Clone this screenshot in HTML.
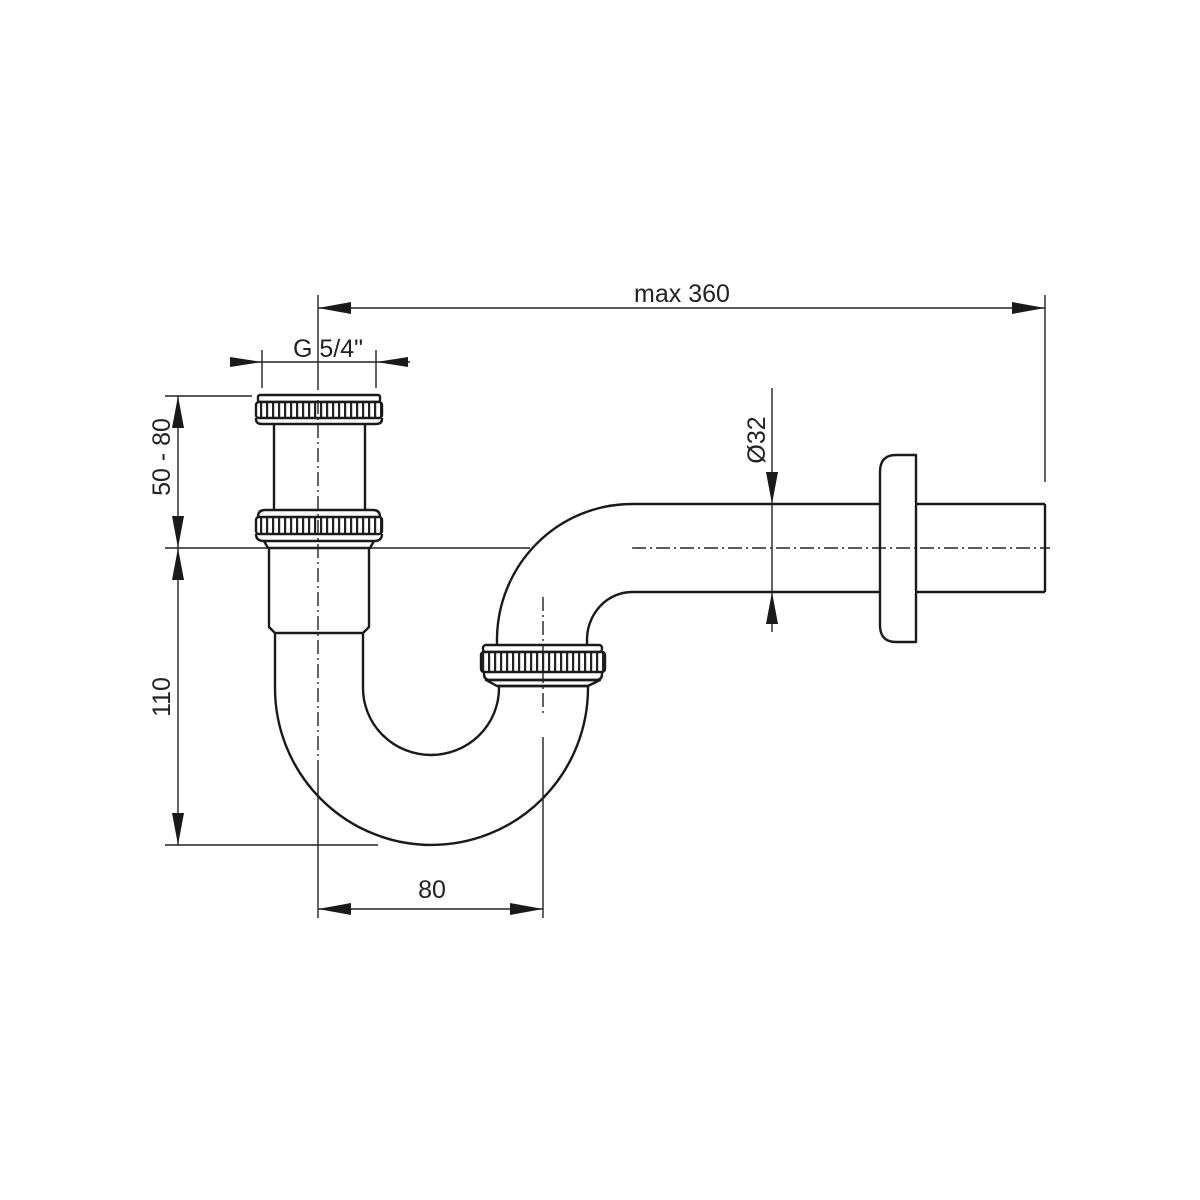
<!DOCTYPE html>
<html><head><meta charset="utf-8"><style>
html,body{margin:0;padding:0;background:#fff}
svg{display:block}
text{font-family:"Liberation Sans",sans-serif;fill:#222}
</style></head><body>
<svg width="1200" height="1200" viewBox="0 0 1200 1200" xmlns="http://www.w3.org/2000/svg">
<defs>
<pattern id="k" x="0" y="0" width="6" height="20" patternUnits="userSpaceOnUse">
<rect x="0" y="0" width="6" height="20" fill="#fff"/>
<rect x="2" y="0" width="2.2" height="20" fill="#222"/>
</pattern>
</defs>
<g fill="none" stroke="#1a1a1a" stroke-width="2.4" stroke-linejoin="round">
<rect x="258" y="395" width="122" height="7" rx="2"/>
<rect x="256" y="402" width="126" height="16" rx="3" fill="url(#k)"/>
<path d="M256,418 L256,419 Q256,424 262,424 L376,424 Q382,424 382,419 L382,418"/>
<line x1="274" y1="424" x2="274" y2="510"/>
<line x1="365" y1="424" x2="365" y2="510"/>
<path d="M258,517 Q258,510 265,510 L373,510 Q380,510 380,517"/>
<rect x="256" y="517" width="126" height="17" rx="3" fill="url(#k)"/>
<path d="M256,534 Q256,541 264,541 L374,541 Q382,541 382,534"/>
<path d="M264,541 L268,548 L370,548 L374,541"/>
<path d="M269,548 L269,627 L275,633 L363,633 L369,627 L369,548"/>
<path d="M275,633 L275,688 A156.5,157 0 0 0 588,688 L588,686"/>
<path d="M363,633 L363,688 A68,67 0 0 0 499,688 L499,686"/>
<path d="M497,686 L486,680 L600,680 L588,686 Z"/>
<line x1="497" y1="686" x2="588" y2="686"/>
<rect x="483" y="645" width="119" height="7" rx="3"/>
<rect x="481" y="652" width="124" height="20" rx="3" fill="url(#k)"/>
<path d="M484,672 L484,674 Q484,680 490,680 L596,680 Q602,680 602,674 L602,672"/>
<path d="M497,645 L497,640 A135,136 0 0 1 632,504"/>
<path d="M587,645 L587,640 A45,48 0 0 1 632,592"/>
<line x1="632" y1="504" x2="880" y2="504"/>
<line x1="632" y1="592" x2="880" y2="592"/>
<line x1="916" y1="504" x2="1045" y2="504"/>
<line x1="916" y1="592" x2="1045" y2="592"/>
<line x1="1045" y1="504" x2="1045" y2="592"/>
<path d="M916,455 L896,455 Q880,455 880,472 L880,625 Q880,642 896,642 L916,642 Z"/>
</g>
<g stroke="#222" stroke-width="1.4" fill="none" stroke-dasharray="14,4,2,4">
<line x1="318" y1="376" x2="318" y2="760"/>
<line x1="543" y1="597" x2="543" y2="716"/>
<line x1="632" y1="548" x2="1050" y2="548"/>
</g>
<g stroke="#222" stroke-width="1.4" fill="none">
<line x1="318" y1="760" x2="318" y2="918"/>
<line x1="543" y1="737" x2="543" y2="918"/>
<line x1="318" y1="909" x2="543" y2="909"/>
<line x1="318" y1="295" x2="318" y2="376"/>
<line x1="318" y1="308" x2="1045" y2="308"/>
<line x1="1045" y1="295" x2="1045" y2="482"/>
<line x1="262" y1="350" x2="262" y2="388"/>
<line x1="376" y1="350" x2="376" y2="388"/>
<line x1="230" y1="362" x2="410" y2="362"/>
<line x1="165" y1="396" x2="252" y2="396"/>
<line x1="165" y1="548" x2="530" y2="548"/>
<line x1="165" y1="845" x2="378" y2="845"/>
<line x1="178" y1="396" x2="178" y2="845"/>
<line x1="772" y1="388" x2="772" y2="632"/>
</g>
<g fill="#1a1a1a">
<polygon points="318,909 351,903 351,915"/>
<polygon points="543,909 510,903 510,915"/>
<polygon points="318,308 351,302 351,314"/>
<polygon points="1045,308 1012,302 1012,314"/>
<polygon points="262,362 230,357 230,367"/>
<polygon points="376,362 408,357 408,367"/>
<polygon points="178,396 172,428 184,428"/>
<polygon points="178,548 172,516 184,516"/>
<polygon points="178,548 172,580 184,580"/>
<polygon points="178,845 172,813 184,813"/>
<polygon points="772,504 766,472 778,472"/>
<polygon points="772,592 766,624 778,624"/>
</g>
<g font-size="25">
<text x="682" y="302" text-anchor="middle">max 360</text>
<text x="328" y="357" text-anchor="middle">G 5/4"</text>
<text x="432" y="898" text-anchor="middle">80</text>
<text transform="translate(170,457) rotate(-90)" text-anchor="middle">50 - 80</text>
<text transform="translate(170,697) rotate(-90)" text-anchor="middle">110</text>
<text transform="translate(765,440) rotate(-90)" text-anchor="middle">Ø32</text>
</g>
</svg>
</body></html>
